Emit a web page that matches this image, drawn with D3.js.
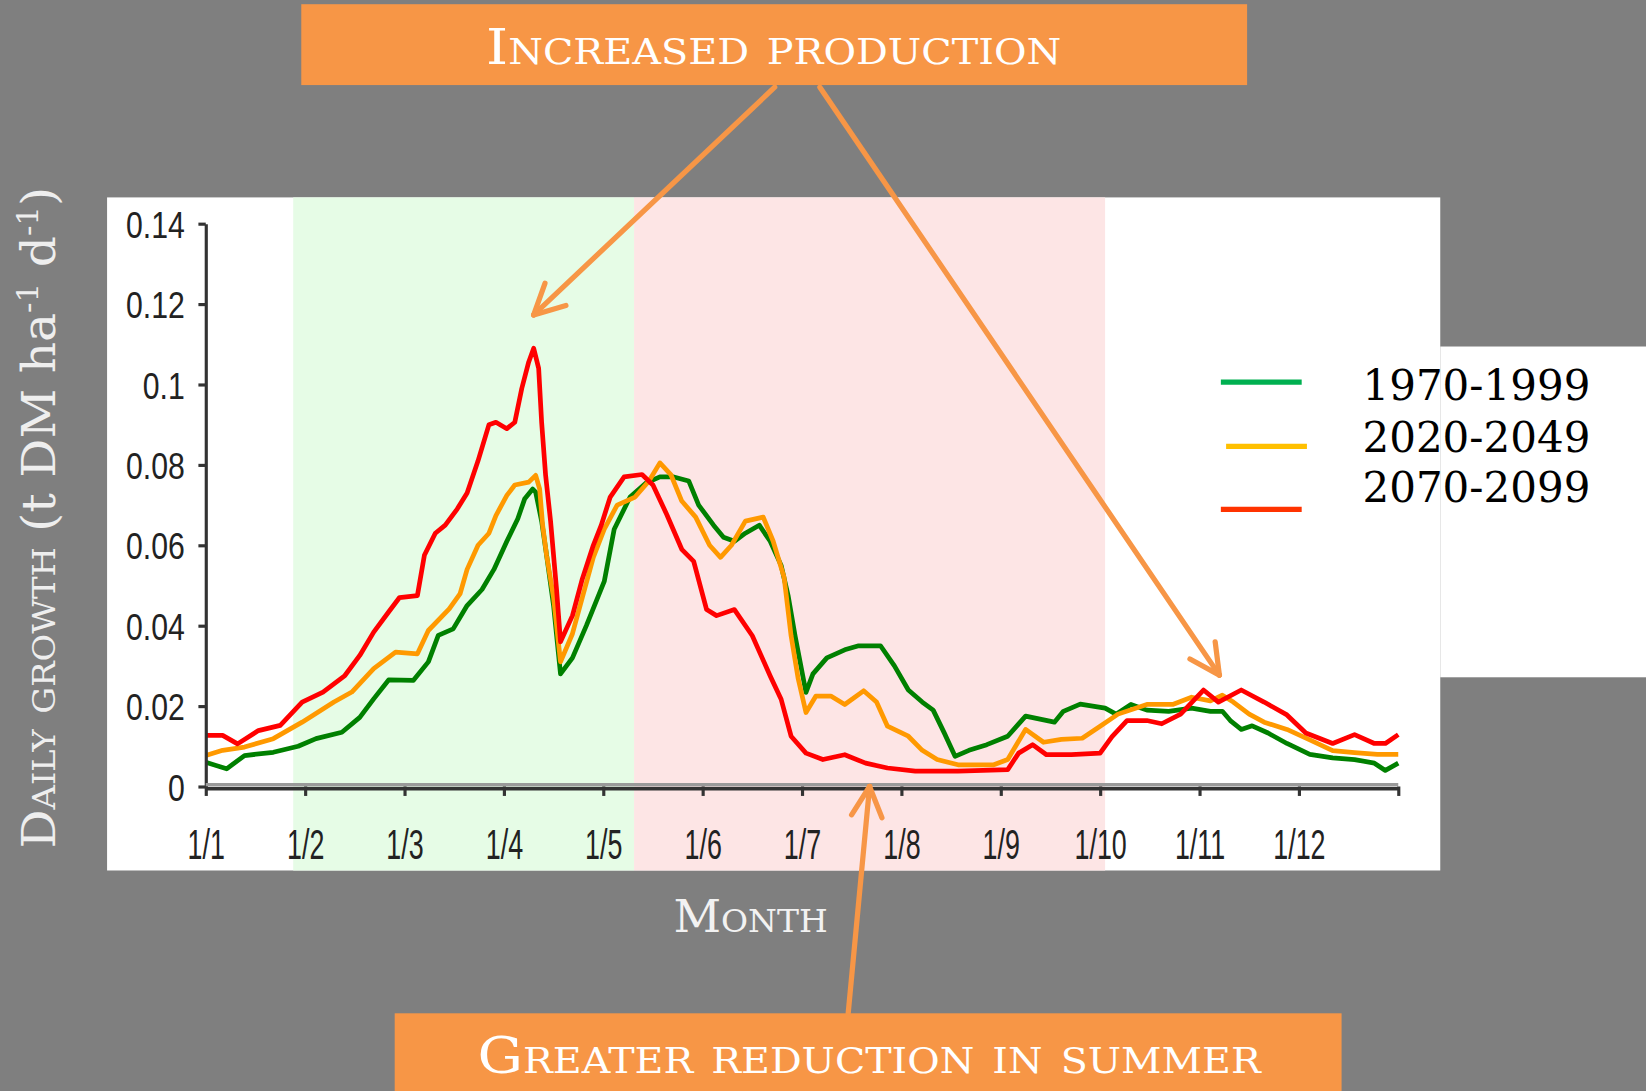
<!DOCTYPE html>
<html><head><meta charset="utf-8">
<script src="https://cdn.jsdelivr.net/npm/d3@7"></script>
<style>html,body{margin:0;padding:0;background:#7f7f7f;overflow:hidden}</style>
</head><body>
<svg id="c" width="1646" height="1091" viewBox="0 0 1568 1039" preserveAspectRatio="none"></svg>
<script>
// ---------------- DATA ----------------
const monthLabels = ["1/1","1/2","1/3","1/4","1/5","1/6","1/7","1/8","1/9","1/10","1/11","1/12"];
const yTicks = [0,0.02,0.04,0.06,0.08,0.10,0.12,0.14];
const yTickLabels = ["0","0.02","0.04","0.06","0.08","0.1","0.12","0.14"];
const seriesNames = ["1970-1999","2020-2049","2070-2099"];

// [month index (0 = 1 Jan, 12 = 31 Dec), daily growth t DM/ha/d]
const series1970 = [[0.00,0.0060],[0.21,0.0044],[0.39,0.0077],[0.68,0.0085],[0.93,0.0100],[1.11,0.0119],[1.37,0.0135],[1.55,0.0172],[1.69,0.0218],[1.84,0.0265],[2.09,0.0264],[2.24,0.0310],[2.34,0.0376],[2.49,0.0392],[2.63,0.0450],[2.78,0.0490],[2.90,0.0540],[3.03,0.0610],[3.14,0.0666],[3.21,0.0716],[3.29,0.0740],[3.32,0.0732],[3.38,0.0660],[3.43,0.0575],[3.50,0.0450],[3.57,0.0280],[3.69,0.0320],[3.83,0.0400],[4.01,0.0510],[4.11,0.0640],[4.27,0.0720],[4.43,0.0755],[4.57,0.0770],[4.71,0.0770],[4.86,0.0760],[4.96,0.0700],[5.11,0.0650],[5.21,0.0620],[5.32,0.0610],[5.43,0.0630],[5.57,0.0650],[5.68,0.0610],[5.79,0.0550],[5.86,0.0475],[5.93,0.0375],[6.04,0.0234],[6.11,0.0280],[6.25,0.0320],[6.43,0.0340],[6.57,0.0350],[6.79,0.0350],[6.93,0.0300],[7.07,0.0240],[7.21,0.0210],[7.32,0.0190],[7.43,0.0134],[7.54,0.0075],[7.68,0.0090],[7.86,0.0104],[8.07,0.0125],[8.25,0.0175],[8.54,0.0160],[8.63,0.0187],[8.80,0.0205],[9.05,0.0195],[9.16,0.0180],[9.31,0.0204],[9.47,0.0190],[9.69,0.0187],[9.92,0.0195],[10.11,0.0187],[10.23,0.0187],[10.31,0.0164],[10.42,0.0142],[10.53,0.0151],[10.69,0.0133],[10.88,0.0107],[11.11,0.0080],[11.34,0.0071],[11.56,0.0067],[11.76,0.0058],[11.87,0.0040],[12.00,0.0058]];
const series2020 = [[0.00,0.0077],[0.17,0.0090],[0.39,0.0098],[0.68,0.0119],[0.97,0.0160],[1.29,0.0210],[1.47,0.0235],[1.69,0.0293],[1.91,0.0334],[2.13,0.0330],[2.24,0.0388],[2.45,0.0442],[2.56,0.0480],[2.63,0.0540],[2.74,0.0600],[2.85,0.0630],[2.92,0.0674],[3.03,0.0724],[3.11,0.0750],[3.25,0.0757],[3.32,0.0774],[3.36,0.0740],[3.39,0.0650],[3.43,0.0575],[3.50,0.0470],[3.57,0.0310],[3.69,0.0380],[3.80,0.0480],[3.90,0.0570],[4.01,0.0640],[4.14,0.0700],[4.32,0.0720],[4.46,0.0760],[4.57,0.0805],[4.68,0.0776],[4.79,0.0710],[4.93,0.0670],[5.07,0.0600],[5.18,0.0570],[5.29,0.0600],[5.43,0.0660],[5.61,0.0670],[5.71,0.0610],[5.82,0.0520],[5.89,0.0375],[5.96,0.0270],[6.04,0.0184],[6.14,0.0225],[6.29,0.0225],[6.43,0.0204],[6.62,0.0238],[6.75,0.0210],[6.86,0.0150],[7.07,0.0125],[7.21,0.0090],[7.36,0.0067],[7.57,0.0054],[7.93,0.0054],[8.07,0.0067],[8.25,0.0142],[8.43,0.0110],[8.61,0.0117],[8.82,0.0120],[9.00,0.0150],[9.18,0.0180],[9.47,0.0204],[9.73,0.0204],[9.92,0.0222],[10.11,0.0213],[10.23,0.0227],[10.34,0.0210],[10.50,0.0180],[10.65,0.0160],[10.88,0.0142],[11.11,0.0116],[11.34,0.0089],[11.56,0.0084],[11.79,0.0080],[12.00,0.0080]];
const series2070 = [[0.00,0.0127],[0.17,0.0127],[0.32,0.0106],[0.53,0.0139],[0.75,0.0152],[0.97,0.0210],[1.18,0.0235],[1.40,0.0276],[1.55,0.0326],[1.69,0.0384],[1.84,0.0434],[1.95,0.0470],[2.13,0.0475],[2.20,0.0575],[2.31,0.0630],[2.41,0.0650],[2.53,0.0690],[2.63,0.0730],[2.74,0.0810],[2.85,0.0900],[2.92,0.0906],[3.03,0.0890],[3.11,0.0906],[3.18,0.0990],[3.25,0.1056],[3.30,0.1090],[3.35,0.1040],[3.38,0.0906],[3.42,0.0774],[3.47,0.0660],[3.53,0.0490],[3.57,0.0360],[3.69,0.0425],[3.79,0.0517],[3.90,0.0600],[3.98,0.0650],[4.07,0.0720],[4.21,0.0770],[4.39,0.0776],[4.50,0.0750],[4.64,0.0676],[4.79,0.0590],[4.91,0.0560],[5.04,0.0440],[5.14,0.0425],[5.32,0.0440],[5.50,0.0375],[5.68,0.0275],[5.79,0.0217],[5.89,0.0125],[6.04,0.0083],[6.21,0.0067],[6.43,0.0079],[6.64,0.0058],[6.86,0.0046],[7.14,0.0038],[7.57,0.0038],[8.07,0.0042],[8.18,0.0083],[8.32,0.0104],[8.46,0.0079],[8.71,0.0079],[9.00,0.0083],[9.12,0.0124],[9.27,0.0164],[9.47,0.0164],[9.62,0.0156],[9.81,0.0180],[10.04,0.0240],[10.19,0.0210],[10.42,0.0240],[10.65,0.0210],[10.88,0.0178],[11.07,0.0133],[11.34,0.0107],[11.56,0.0129],[11.76,0.0107],[11.87,0.0107],[12.00,0.0129]];

// shaded periods (month index)
const bandStart = [0.88, 4.31];
const bandEnd   = [4.31, 9.05];
// annotation targets (month index, value)
const arrowTargets = [[3.30,0.1173],[10.20,0.0277],[6.68,0.0]];

// ---------------- STYLE ----------------
const lineColors = ["#008000","#ff9900","#ff0000"];
const legendColors = ["#00b050","#ffc000","#ff3300"];
const bandColors = ["#e6fce6","#fde5e5"];
const accent = "#f79646";

const svg = d3.select("#c");
const W = 1568, H = 1039;
svg.append("rect").attr("width",W).attr("height",H).attr("fill","#7f7f7f");
svg.append("rect").attr("x",102).attr("y",188).attr("width",1270).attr("height",641).attr("fill","#fff");
svg.append("rect").attr("x",1372).attr("y",330).attr("width",196).attr("height",315).attr("fill","#fff");

const x = d3.scaleLinear().domain([0,12]).range([196,1332]);
const y = d3.scaleLinear().domain([0,0.14]).range([749,213]);

bandStart.forEach((b,i)=>{
  svg.append("rect").attr("x",x(b)).attr("y",188)
    .attr("width",x(bandEnd[i])-x(b)).attr("height",641).attr("fill",bandColors[i]);
});

function condense(sel, f){
  sel.each(function(){
    const L = this.getComputedTextLength();
    d3.select(this).attr("textLength", L*f).attr("lengthAdjust","spacingAndGlyphs");
  });
}

// Lines
const line = d3.line().x(d=>x(d[0])).y(d=>y(d[1]));
[series1970, series2020, series2070].forEach((s,i)=>{
  svg.append("path").datum(s).attr("d",line).attr("fill","none")
    .attr("stroke",lineColors[i]).attr("stroke-width",4.5).attr("stroke-linejoin","round");
});

// Y axis
const gy = svg.append("g").attr("transform",`translate(${x(0)},0)`)
  .call(d3.axisLeft(y).tickValues(yTicks).tickSize(7).tickSizeOuter(0).tickPadding(13)
    .tickFormat((d,i)=>yTickLabels[i]));
gy.select(".domain").attr("stroke","#333").attr("stroke-width",3);
gy.selectAll(".tick line").attr("stroke","#333").attr("stroke-width",3);
gy.selectAll(".tick text").attr("font-family","'Liberation Sans', Arial, sans-serif")
  .attr("font-size",36).attr("fill","#222").attr("dy","0.36em");
condense(gy.selectAll(".tick text"), 0.8);

// X axis
const gx = svg.append("g").attr("transform",`translate(0,${y(0)})`)
  .call(d3.axisBottom(x).tickValues(d3.range(13)).tickSize(9).tickSizeOuter(0).tickPadding(32)
    .tickFormat((d,i)=>monthLabels[i] || ""));
gx.select(".domain").attr("stroke","#333").attr("stroke-width",3.4).attr("transform","translate(0,1.6)");
gx.insert("line",":first-child").attr("x1",x(0)).attr("x2",x(12)).attr("y1",-1.7).attr("y2",-1.7)
  .attr("stroke","#9a9a9a").attr("stroke-width",3.4);
gx.selectAll(".tick line").attr("stroke","#333").attr("stroke-width",3);
gx.selectAll(".tick text").attr("font-family","'Liberation Sans', Arial, sans-serif")
  .attr("font-size",40).attr("fill","#222").attr("dy","0.7em");
condense(gx.selectAll(".tick text").filter(function(){return this.textContent.length>0;}), 0.64);

// Legend
const legLineX1 = [1163,1168,1163], legLineY = [364,425,485], legTextY = [381,430,478];
seriesNames.forEach((n,i)=>{
  svg.append("line").attr("x1",legLineX1[i]).attr("x2",legLineX1[i]+77)
    .attr("y1",legLineY[i]).attr("y2",legLineY[i])
    .attr("stroke",legendColors[i]).attr("stroke-width",5);
  svg.append("text").attr("x",1515).attr("y",legTextY[i]).attr("text-anchor","end")
    .attr("font-family","'DejaVu Serif', serif").attr("font-size",40).attr("fill","#000").text(n);
});

// Axis titles
svg.append("text").attr("x",715).attr("y",888).attr("text-anchor","middle")
  .attr("font-family","'DejaVu Serif', serif").attr("font-size",43).attr("fill","#f2f2f2")
  .style("font-variant","small-caps").attr("textLength",147).attr("lengthAdjust","spacingAndGlyphs")
  .text("Month");

const yl = svg.append("text").attr("transform","translate(52,808) rotate(-90)")
  .attr("font-family","'DejaVu Serif', serif").attr("font-size",44).attr("fill","#eeeeee")
  .attr("textLength",630).attr("lengthAdjust","spacingAndGlyphs");
yl.append("tspan").style("font-variant","small-caps").text("Daily growth");
yl.append("tspan").text(" (t DM ha");
yl.append("tspan").attr("font-size",28).attr("baseline-shift","super").text("-1");
yl.append("tspan").text(" d");
yl.append("tspan").attr("font-size",28).attr("baseline-shift","super").text("-1");
yl.append("tspan").text(")");

// Annotation boxes
svg.append("rect").attr("x",287).attr("y",4).attr("width",901).attr("height",77).attr("fill",accent);
svg.append("text").attr("x",737).attr("y",61).attr("text-anchor","middle")
  .attr("font-family","'DejaVu Serif', serif").attr("font-size",47).attr("fill","#fff")
  .style("font-variant","small-caps").attr("textLength",548).attr("lengthAdjust","spacingAndGlyphs")
  .text("Increased production");

svg.append("rect").attr("x",376).attr("y",965).attr("width",902).attr("height",80).attr("fill",accent);
svg.append("text").attr("x",828).attr("y",1022).attr("text-anchor","middle")
  .attr("font-family","'DejaVu Serif', serif").attr("font-size",48).attr("fill","#fff")
  .style("font-variant","small-caps").attr("textLength",746).attr("lengthAdjust","spacingAndGlyphs")
  .text("Greater reduction in summer");

// Arrows
function arrow(x1,y1,x2,y2){
  const g = svg.append("g").attr("stroke",accent).attr("stroke-width",5)
    .attr("stroke-linecap","round").attr("fill","none");
  g.append("line").attr("x1",x1).attr("y1",y1).attr("x2",x2).attr("y2",y2);
  const ang = Math.atan2(y1-y2, x1-x2), len = 32, sp = 27*Math.PI/180;
  [-sp, sp].forEach(s=>{
    g.append("line").attr("x1",x2).attr("y1",y2)
      .attr("x2",x2+len*Math.cos(ang+s)).attr("y2",y2+len*Math.sin(ang+s));
  });
}
const tails = [[738,83],[781,83],[808,965]];
arrowTargets.forEach((t,i)=> arrow(tails[i][0], tails[i][1], x(t[0]), y(t[1])));
</script>
</body></html>
